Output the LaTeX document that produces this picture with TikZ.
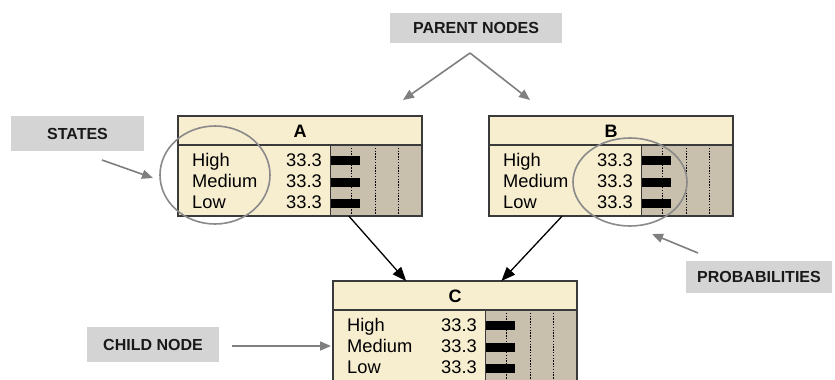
\documentclass[tikz,border=0pt]{standalone}
\usepackage{fontspec}
\setmainfont{Liberation Sans}
\usetikzlibrary{arrows.meta,calc}
\definecolor{cream}{HTML}{F7EDCF}
\definecolor{barbg}{HTML}{C9BFAD}
\definecolor{lblgray}{HTML}{D4D4D4}
\definecolor{arrgray}{HTML}{7F7F7F}
\definecolor{circgray}{HTML}{8A8A8A}
\definecolor{edgecol}{HTML}{3A3A3A}
\tikzset{
  bnframe/.style={draw=edgecol, line width=1.2pt, minimum width=244pt, minimum height=100pt, inner sep=0pt, outer sep=0pt},
  bntitle/.style={inner sep=0pt, font=\bfseries\fontsize{18}{21}\selectfont},
  bnstate/.style={anchor=base west, inner sep=0pt, font=\fontsize{18.3}{21}\selectfont},
  bnval/.style={anchor=base east, inner sep=0pt, font=\fontsize{18.3}{21}\selectfont},
  dotline/.style={black, line width=1pt, dash pattern=on 1.3pt off 1.5pt},
  lbl/.style={fill=lblgray, inner sep=0pt, text=black!90, font=\bfseries\fontsize{16}{19}\selectfont},
  gar/.style={draw=arrgray, line width=1.6pt, -{Triangle[length=11pt,width=9pt,fill=arrgray]}},
  bar/.style={draw=black, line width=1.3pt, -{Triangle[length=14pt,width=11pt,fill=black]}},
  circ/.style={draw=circgray, line width=1.6pt},
}
\newcommand\bnbox[4]{%
  \begin{scope}[shift={(#2,#3)}]
    \fill[cream] (0,0) rectangle (244,100);
    \fill[barbg] (152,29) rectangle (244,100);
    \foreach \xx in {173,197,220} \draw[dotline] (\xx,29) -- (\xx,100);
    \foreach \yy in {44,66,87} \fill[black] (152,\yy-4.5) rectangle (182,\yy+4.5);
    \draw[edgecol, line width=1.6pt] (0,29) -- (244,29);
    \draw[edgecol, line width=0.6pt] (152,29) -- (152,100);
    \node[bntitle] (#1title) at (122,15) {#4};
    \node[bnstate] (#1s1) at (14,50) {High};
    \node[bnstate] (#1s2) at (14,71) {Medium};
    \node[bnstate] (#1s3) at (14,92) {Low};
    \node[bnval] (#1v1) at (144,50) {33.3};
    \node[bnval] (#1v2) at (144,71) {33.3};
    \node[bnval] (#1v3) at (144,92) {33.3};
  \end{scope}
  \node[bnframe, anchor=north west] (#1) at (#2,#3) {};
}
\begin{document}
\begin{tikzpicture}[x=1pt, y=-1pt]
  \useasboundingbox (0,0) rectangle (835,380);
  \clip (0,0) rectangle (835,380);
  \fill[white] (0,0) rectangle (835,380);

  \bnbox{A}{178}{116}{A}
  \bnbox{B}{489}{116}{B}
  \bnbox{C}{333}{281}{C}

  % labels
  \node[lbl, minimum width=172pt, minimum height=30pt] (parent) at (476,28) {PARENT NODES};
  \node[lbl, minimum width=133pt, minimum height=35pt] (states) at (77.5,133.5) {STATES};
  \node[lbl, minimum width=146pt, minimum height=32pt] (probs) at (759,277) {PROBABILITIES};
  \node[lbl, minimum width=132pt, minimum height=35pt] (child) at (153,344.5) {CHILD NODE};

  % highlight ellipses
  \draw[circ] (215,175) ellipse [x radius=55pt, y radius=49pt];
  \draw[circ] (630,182) ellipse [x radius=57pt, y radius=44pt];

  % black edges
  \draw[bar] ($(A.south west)!0.7!(A.south east)$) -- ($(C.north west)!0.3!(C.north east)$);
  \draw[bar] ($(B.south west)!0.3!(B.south east)$) -- ($(C.north west)!0.69!(C.north east)$);

  % gray pointer arrows
  \coordinate (apex) at (470,53);
  \coordinate (ptA) at (403,100);
  \coordinate (ptB) at (530,100);
  \draw[gar] (apex) -- (ptA);
  \draw[gar] (apex) -- (ptB);
  \coordinate (stS) at (102,160);
  \coordinate (stE) at (153,178);
  \draw[gar] (stS) -- (stE);
  \coordinate (prS) at (698,253);
  \coordinate (prE) at (652,234);
  \draw[gar] (prS) -- (prE);
  \coordinate (chS) at (232,346);
  \draw[gar, shorten >=2pt] (chS) -- ($(C.north west)+(0,65)$);
\end{tikzpicture}
\end{document}
